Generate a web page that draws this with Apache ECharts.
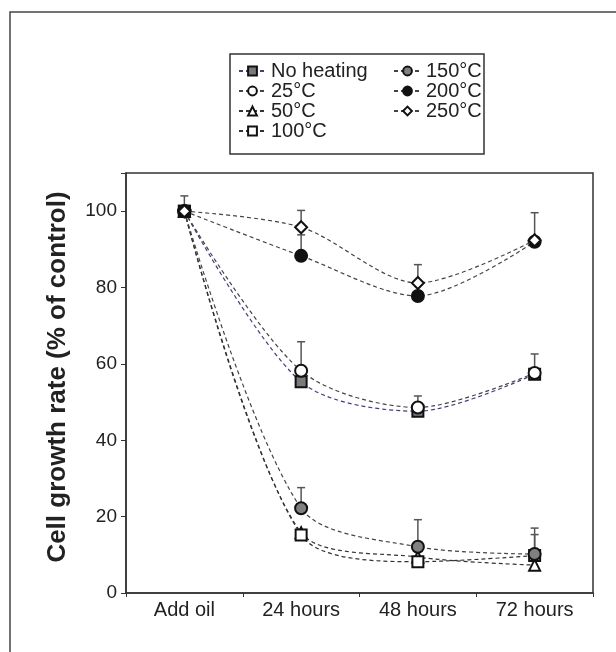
<!DOCTYPE html>
<html>
<head>
<meta charset="utf-8">
<script src="https://cdn.jsdelivr.net/npm/echarts@6/dist/echarts.min.js"></script>
<style>html,body{margin:0;padding:0;background:#fff;}#c{width:616px;height:652px;}</style>
</head>
<body>
<div id="c"></div>
<script>
var categories = ['Add oil', '24 hours', '48 hours', '72 hours'];
var seriesNames = ['No heating', '25°C', '50°C', '100°C', '150°C', '200°C', '250°C'];
var noHeating = [100, 55.3, 47.6, 57.3];
var c25 = [100, 58.2, 48.6, 57.6];
var c50 = [100, 15.8, 9.4, 7.3];
var c100 = [100, 15.2, 8.2, 9.8];
var c150 = [100, 22.2, 12.1, 10.2];
var c200 = [100, 88.3, 77.8, 92.0];
var c250 = [100, 95.8, 81.2, 92.4];
// upper end of error bars (null = none)
var errNoHeating = [null, null, 51.6, null];
var err25 = [null, 65.8, null, 62.6];
var err50 = [null, null, null, null];
var err100 = [null, null, null, 15.3];
var err150 = [null, 27.6, 19.2, 17.0];
var err200 = [null, 93.8, null, null];
var err250 = [104, 100.2, 86.0, 99.6];
var yTicks = [0, 20, 40, 60, 80, 100];

var values = [noHeating, c25, c50, c100, c150, c200, c250];
var errs = [errNoHeating, err25, err50, err100, err150, err200, err250];
var symbols = ['rect', 'circle', 'triangle', 'rect', 'circle', 'circle', 'diamond'];
var fills = ['#7a7a7a', '#ffffff', '#ffffff', '#ffffff', '#808080', '#111111', '#ffffff'];
var sizes = [11, 12, 11, 11, 12, 12, 12];
var lineColors = ['#3d417e', '#444444', '#333333', '#333333', '#444444', '#444444', '#444444'];

var errData = [];
values.forEach(function (v, i) {
  errs[i].forEach(function (t, j) {
    if (t != null) errData.push([j, v[j], t]);
  });
});

var series = [{
  type: 'custom',
  name: 'err',
  z: 1,
  silent: true,
  data: errData,
  renderItem: function (params, api) {
    var p0 = api.coord([api.value(0), api.value(1)]);
    var p1 = api.coord([api.value(0), api.value(2)]);
    var w = 4;
    return {
      type: 'group',
      children: [
        { type: 'line', shape: { x1: p0[0], y1: p0[1], x2: p1[0], y2: p1[1] }, style: { stroke: '#555', lineWidth: 1.5 } },
        { type: 'line', shape: { x1: p1[0] - w, y1: p1[1], x2: p1[0] + w, y2: p1[1] }, style: { stroke: '#555', lineWidth: 1.5 } }
      ]
    };
  }
}];

seriesNames.forEach(function (n, i) {
  series.push({
    type: 'line',
    name: n,
    data: values[i],
    smooth: 0.3,
    z: 3 + i,
    symbol: symbols[i],
    symbolSize: sizes[i],
    showAllSymbol: true,
    lineStyle: { color: lineColors[i], width: 1.2, type: [4, 3] },
    itemStyle: { color: fills[i], borderColor: '#111', borderWidth: 2 },
    emphasis: { disabled: true },
    animation: false
  });
});

var legendText = { fontSize: 20, lineHeight: 20, color: '#222', fontFamily: 'Liberation Sans, Arial' };

var chart = echarts.init(document.getElementById('c'), null, { renderer: 'canvas' });
chart.setOption({
  animation: false,
  backgroundColor: '#fff',
  grid: { left: 126, top: 173, right: 23, bottom: 59, show: true, borderColor: '#333', borderWidth: 1.5 },
  xAxis: {
    type: 'category',
    data: categories,
    boundaryGap: true,
    axisLine: { lineStyle: { color: '#333', width: 1.5 } },
    axisTick: { show: true, length: 4, lineStyle: { color: '#333' } },
    axisLabel: { color: '#222', fontSize: 20, fontFamily: 'Liberation Sans, Arial', margin: 7 }
  },
  yAxis: {
    type: 'value',
    min: 0, max: 110, interval: 20,
    axisLine: { show: true, lineStyle: { color: '#333', width: 1.5 } },
    axisTick: { show: true, length: 5, lineStyle: { color: '#333' } },
    splitLine: { show: false },
    axisLabel: {
      color: '#222', fontSize: 19, fontFamily: 'Liberation Sans, Arial', margin: 9,
      formatter: function (v) { return yTicks.indexOf(v) >= 0 ? String(v) : ''; }
    }
  },
  legend: [{
    left: 238, top: 61, orient: 'vertical', padding: 0,
    data: seriesNames.slice(0, 4),
    itemWidth: 27, itemHeight: 11, itemGap: 0,
    textStyle: legendText,
    selectedMode: false
  }, {
    left: 393, top: 61, orient: 'vertical', padding: 0,
    data: seriesNames.slice(4),
    itemWidth: 27, itemHeight: 11, itemGap: 0,
    textStyle: legendText,
    selectedMode: false
  }],
  graphic: [
    { type: 'rect', z: -10, shape: { x: 10, y: 12, width: 640, height: 700 }, style: { fill: 'none', stroke: '#444', lineWidth: 1.5 } },
    { type: 'rect', z: -5, shape: { x: 230, y: 54, width: 254, height: 100 }, style: { fill: '#fff', stroke: '#333', lineWidth: 1.5 } },
    { type: 'text', z: 10, x: 58, y: 377, rotation: Math.PI / 2,
      style: { text: 'Cell growth rate (% of control)', fontSize: 26, fontWeight: 'bold', fontFamily: 'Liberation Sans, Arial', fill: '#222', align: 'center', verticalAlign: 'middle' } }
  ],
  series: series
});
</script>
</body>
</html>
